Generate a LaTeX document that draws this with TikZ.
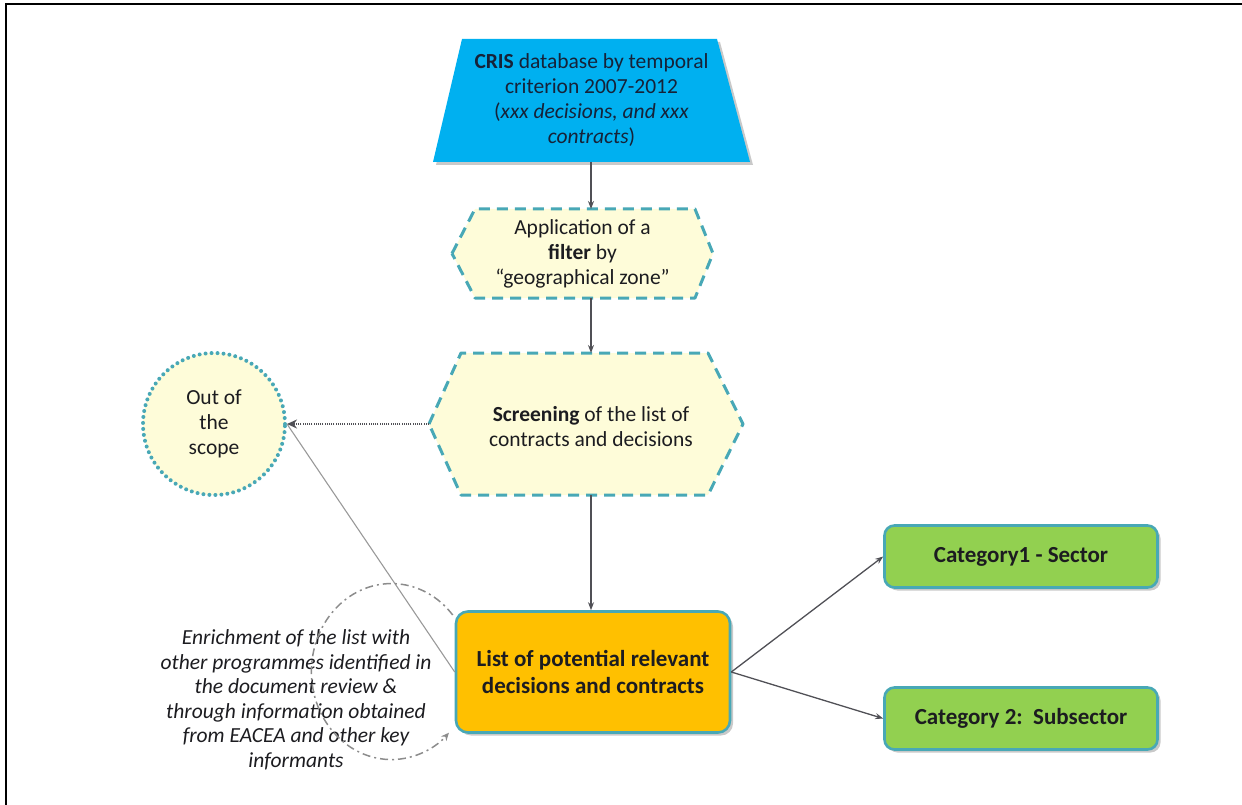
\documentclass[tikz,border=0pt]{standalone}
\usepackage{fontspec}
\setmainfont{Carlito}
\usetikzlibrary{calc,arrows.meta,shadows}

\definecolor{crisblue}{RGB}{0,176,240}
\definecolor{paleyellow}{RGB}{254,252,217}
\definecolor{tealedge}{RGB}{72,168,182}
\definecolor{listorange}{RGB}{255,192,0}
\definecolor{catgreen}{RGB}{146,208,80}
\definecolor{linkgray}{RGB}{80,80,86}
\definecolor{inkdark}{RGB}{28,28,32}
\definecolor{navyink}{RGB}{22,34,56}

\pgfdeclarelayer{back}
\pgfsetlayers{back,main}

\tikzset{
  txt/.style={align=center, text=inkdark, inner sep=0pt},
  frame/.style={inner sep=0pt, outer sep=0pt, draw=none},
  softshadow/.style={drop shadow={shadow xshift=3pt, shadow yshift=-3pt, opacity=0.3, fill=black!70}},
  hexedge/.style={fill=paleyellow, draw=tealedge, line width=3pt, dash pattern=on 11pt off 7pt, line join=round},
  roundbox/.style={rounded corners=12pt, draw=tealedge, line width=2.6pt, inner sep=0pt, softshadow,
    text=inkdark, align=center, font=\fontsize{23}{26.5}\selectfont\bfseries},
  catbox/.style={roundbox, rounded corners=10pt, fill=catgreen, minimum width=273pt, minimum height=62pt},
  flow/.style={draw=linkgray, line width=1.3pt, -{Stealth[length=8pt,width=6pt]}},
}

\begin{document}
\begin{tikzpicture}[x=1pt, y=-1pt, font=\fontsize{21.5}{25}\selectfont]
\useasboundingbox (0,0) rectangle (1242,805);

% page frame (left and top rules)
\draw[black, line width=2pt] (6,805) -- (6,4) -- (1242,4);

% ---- source database (trapezoid)
\node[frame, minimum width=317pt, minimum height=123pt] (cris) at (591.5,100.5) {};
\begin{pgfonlayer}{back}
  \fill[crisblue, softshadow]
    (cris.south west) -- ($(cris.north west)+(29,0)$) -- ($(cris.north east)+(-33,0)$)
    -- (cris.south east) -- cycle;
\end{pgfonlayer}
\node[txt, text=navyink] at (cris.center) {\textbf{CRIS} database by temporal\\criterion 2007-2012\\(\textit{xxx decisions, and xxx}\\\textit{contracts})};

% ---- filter step (dashed hexagon)
\node[frame, minimum width=261pt, minimum height=89pt] (filt) at (582.5,253.5) {};
\begin{pgfonlayer}{back}
  \path[hexedge]
    (filt.west) -- ($(filt.north west)+(23,0)$) -- ($(filt.north east)+(-18,0)$)
    -- (filt.east) -- ($(filt.south east)+(-18,0)$) -- ($(filt.south west)+(23,0)$) -- cycle;
\end{pgfonlayer}
\node[txt] at (filt.center) {Application of a\\\textbf{filter} by\\``geographical zone''};

% ---- screening step (dashed hexagon)
\node[frame, minimum width=314pt, minimum height=142pt] (scr) at (586,424) {};
\begin{pgfonlayer}{back}
  \path[hexedge]
    (scr.west) -- ($(scr.north west)+(32,0)$) -- ($(scr.north east)+(-35,0)$)
    -- (scr.east) -- ($(scr.south east)+(-35,0)$) -- ($(scr.south west)+(32,0)$) -- cycle;
\end{pgfonlayer}
\node[txt] at ($(scr.center)+(5,3)$) {\textbf{Screening} of the list of\\contracts and decisions};

% ---- out of scope (dotted circle)
\node[circle, minimum size=142pt, inner sep=0pt, fill=paleyellow, draw=tealedge,
      line width=4pt, dash pattern=on 0pt off 6pt, line cap=round,
      align=center, text=inkdark] (out) at (214,424) {Out of\\the\\scope};

% ---- resulting list
\node[roundbox, fill=listorange, minimum width=274pt, minimum height=121pt] (list) at (593,672)
      {List of potential relevant\\decisions and contracts};

% ---- categories
\node[catbox] (cat1) at (1021,556.5) {Category1 - Sector};
\node[catbox] (cat2) at (1021,718.5) {Category 2:\ \ Subsector};

% ---- enrichment note
\node[txt, font=\fontsize{21.5}{24.5}\selectfont\itshape] (note) at (296,700)
  {Enrichment of the list with\\other programmes identified in\\the document review \&\\through information obtained\\from EACEA and other key\\informants};

% ---- main flow
\draw[flow] (cris.south -| 591,0) -- (591,0 |- filt.north);
\draw[flow] (591,0 |- filt.south) -- (591,0 |- scr.north);
\draw[flow] (591,0 |- scr.south) -- (591,0 |- list.north);
\draw[flow] (list.east) -- (cat1.west);
\draw[flow] (list.east) -- (cat2.west);

% ---- rejected items
\draw[draw=linkgray, line width=1.5pt, dash pattern=on 1pt off 1.2pt,
      -{Stealth[length=10pt,width=9pt]}] (scr.west) -- (out.east);
\draw[draw=black!40, line width=1.1pt] (list.west) -- (out.east);

% ---- enrichment loop
\draw[draw=black!45, line width=1.5pt, dash pattern=on 8pt off 4pt on 2pt off 4pt,
      -{Stealth[length=8pt,width=7pt]}]
  ($(list.west)+(-2,-57)$) arc[start angle=-40, end angle=-316, x radius=80, y radius=88];
\end{tikzpicture}
\end{document}
